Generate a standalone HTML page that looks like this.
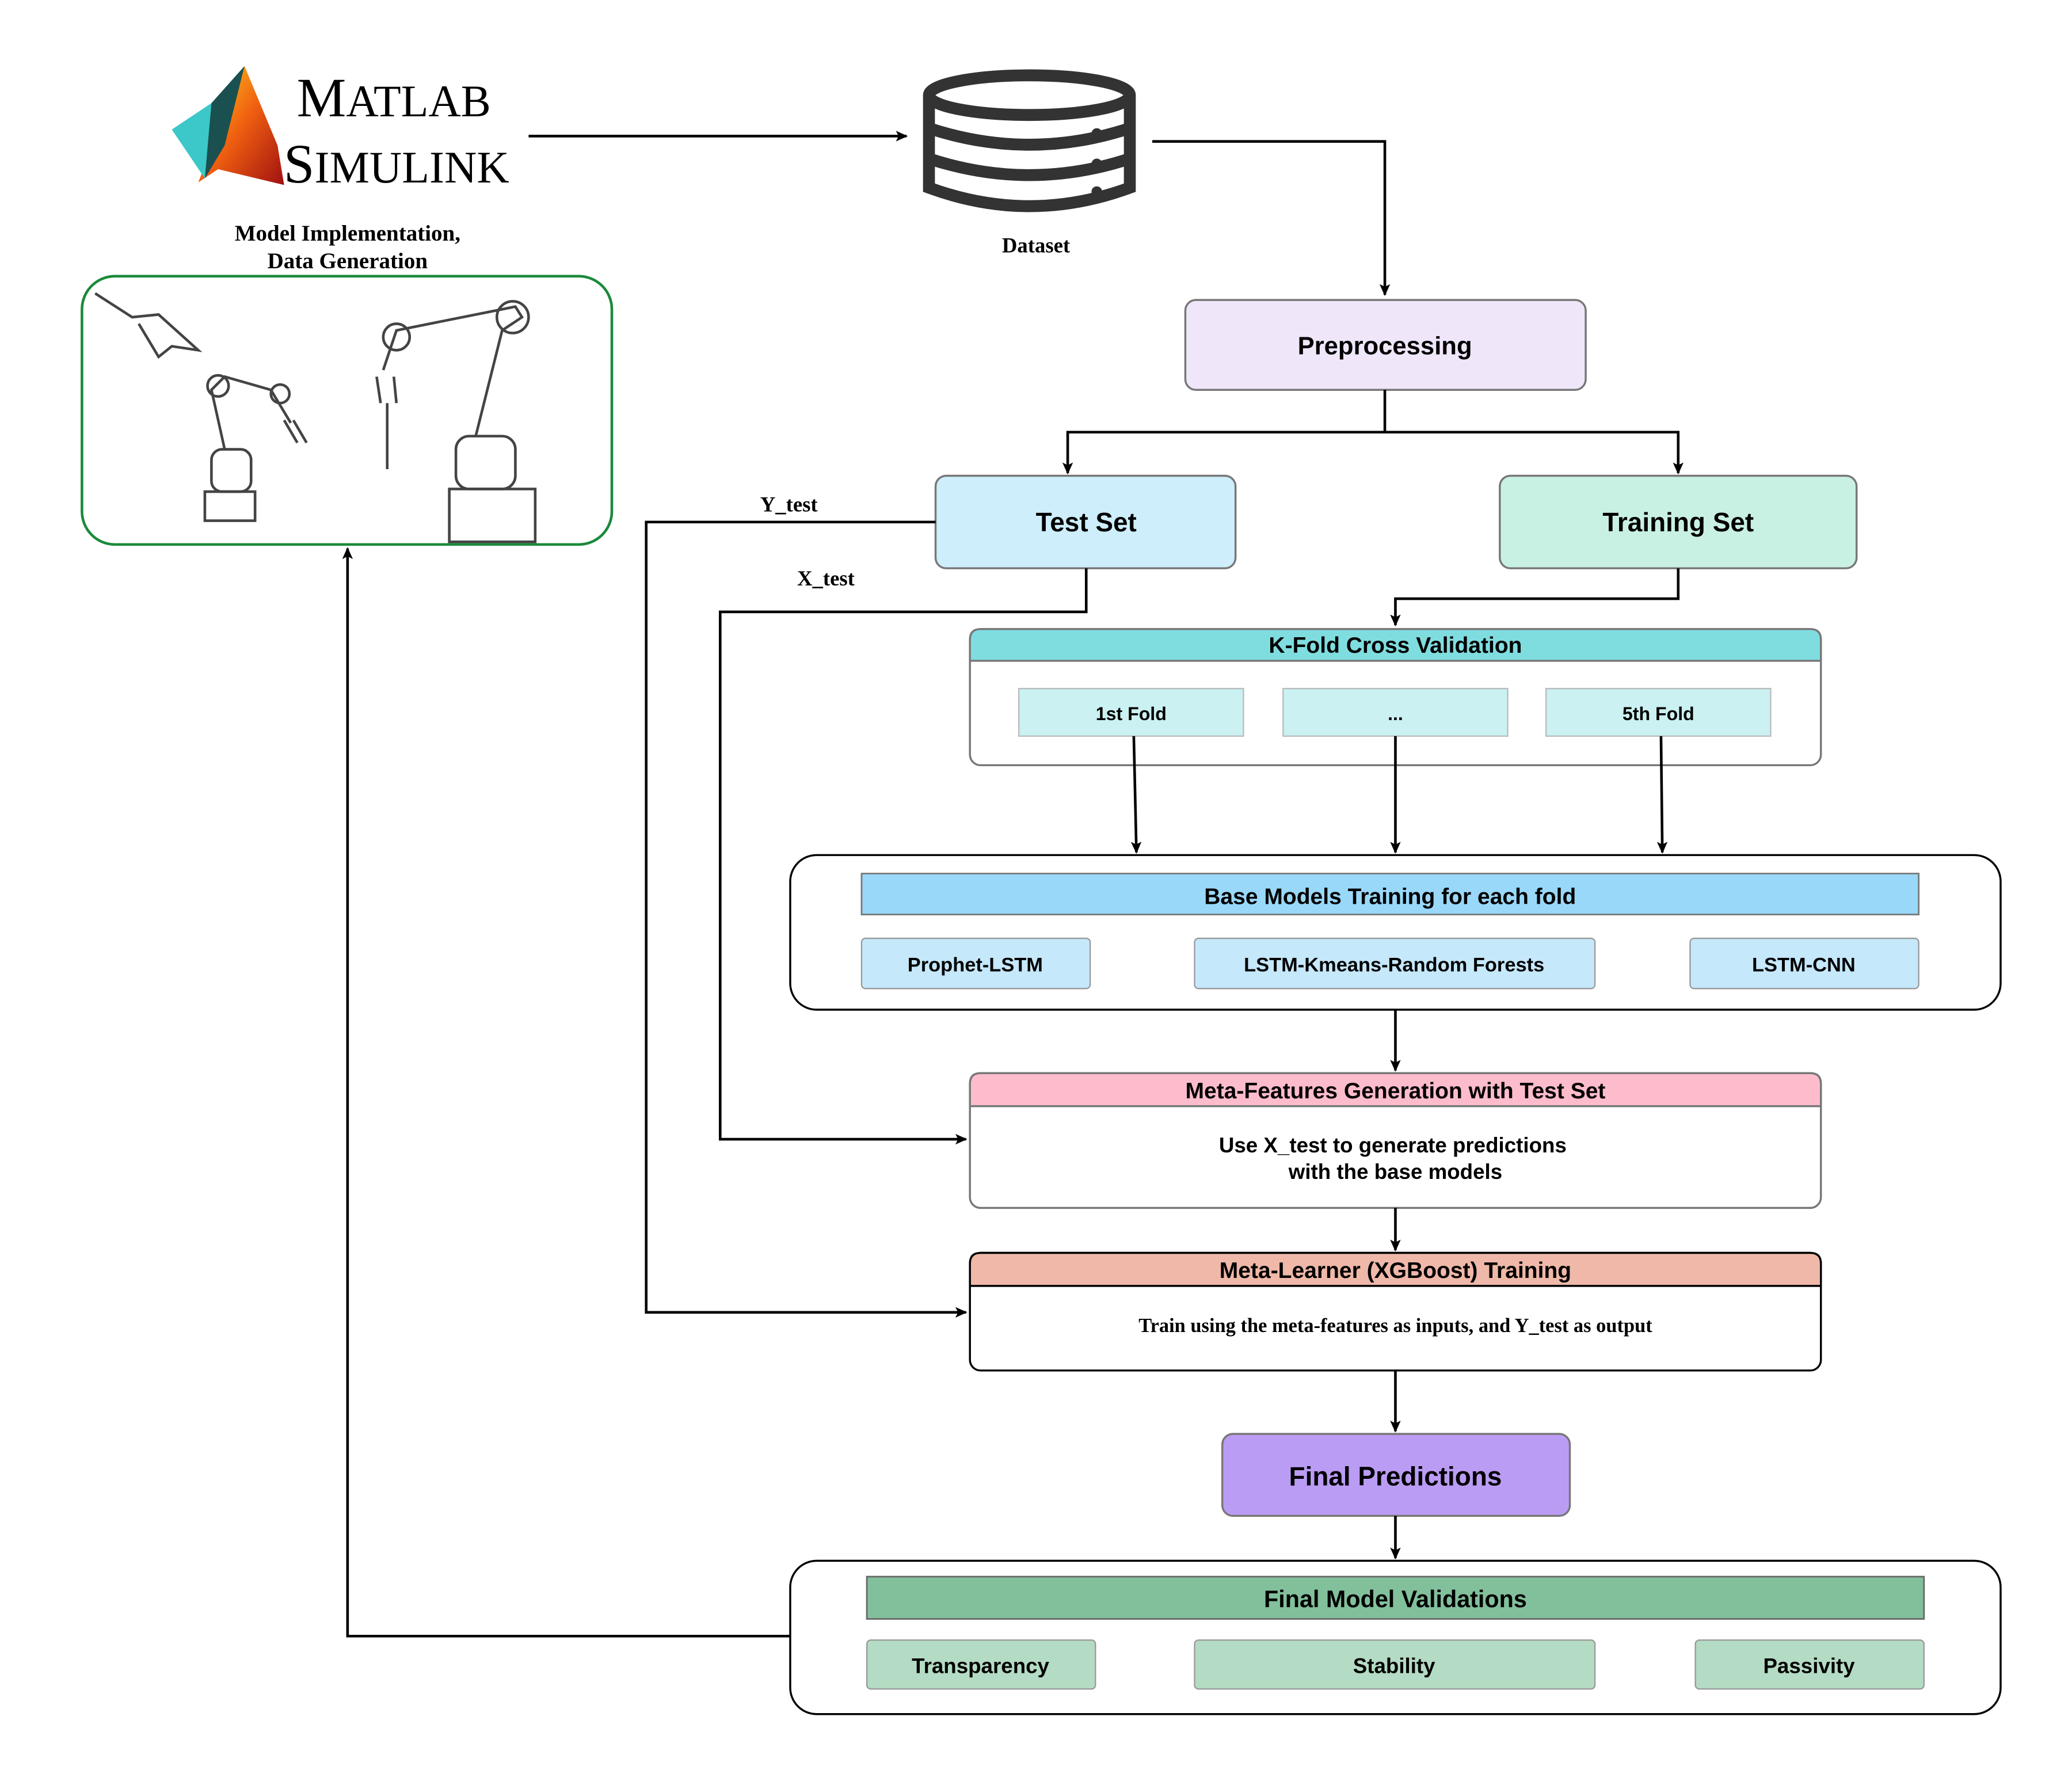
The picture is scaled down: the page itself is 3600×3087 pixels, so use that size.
<!DOCTYPE html>
<html><head><meta charset="utf-8"><style>
html,body{margin:0;padding:0;background:#fff;}
svg{display:block;}
.s{font-family:"Liberation Sans",sans-serif;font-weight:bold;fill:#000;text-anchor:middle;}
.r{font-family:"Liberation Serif",serif;font-weight:bold;fill:#000;text-anchor:middle;}
.ln{fill:none;stroke:#000;stroke-width:2;}
</style></head><body>
<svg width="3600" height="3087" viewBox="0 0 1568 1344.6" xmlns="http://www.w3.org/2000/svg">
<defs>
<marker id="a" markerWidth="10" markerHeight="10" refX="8" refY="5" orient="auto" markerUnits="userSpaceOnUse"><path d="M0,1 L9,5 L0,9 L2,5 Z" fill="#000"/></marker>
<linearGradient id="g" x1="0" y1="0" x2="1" y2="1"><stop offset="0" stop-color="#ffd21e"/><stop offset="0.5" stop-color="#f06010"/><stop offset="1" stop-color="#a01010"/></linearGradient>
</defs>
<rect width="1568" height="1345" fill="#fff"/>
<path d="M185,50 L210,110 L215,140 L165,128 L150,138 Z" fill="url(#g)"/>
<path d="M130,98 L160,78 L175,90 L155,135 Z" fill="#3cc8c8"/>
<path d="M160,78 L185,50 L170,110 L155,135 Z" fill="#1a5050"/>
<text x="298" y="88" font-family="Liberation Serif,serif" font-size="42" text-anchor="middle">M<tspan font-size="34">ATLAB</tspan></text>
<text x="300" y="138" font-family="Liberation Serif,serif" font-size="42" text-anchor="middle">S<tspan font-size="34">IMULINK</tspan></text>
<text x="263" y="182" class="r" font-size="17">Model Implementation,</text>
<text x="263" y="203" class="r" font-size="17">Data Generation</text>
<line class="ln" x1="400" y1="103" x2="686" y2="103" marker-end="url(#a)"/>
<g fill="none" stroke="#333" stroke-width="9">
<ellipse cx="779" cy="72" rx="76" ry="15"/>
<path d="M703,72 V142 Q779,170 855,142 V72"/>
<path d="M703,97 Q779,122 855,97"/><path d="M703,120 Q779,145 855,120"/>
</g>
<circle cx="830" cy="101" r="4" fill="#333"/><circle cx="830" cy="124" r="4" fill="#333"/><circle cx="830" cy="145" r="4" fill="#333"/>
<text x="784" y="191" class="r" font-size="16">Dataset</text>
<polyline class="ln" points="872,107 1048,107 1048,223" marker-end="url(#a)"/>
<rect x="62" y="209" width="401" height="203" rx="25" fill="#fff" stroke="#1a8a3a" stroke-width="2"/>
<g fill="none" stroke="#444" stroke-width="2">
<path d="M72,222 L100,240 L120,238 L150,265 L130,262 L120,270 L105,245"/>
<rect x="155" y="372" width="38" height="22"/><rect x="160" y="340" width="30" height="32" rx="8"/>
<path d="M170,340 L160,295 L170,285 L205,295 L220,320"/><circle cx="165" cy="292" r="8"/><circle cx="212" cy="298" r="7"/>
<path d="M215,318 L225,335 M222,318 L232,335"/>
<rect x="340" y="370" width="65" height="40"/><rect x="345" y="330" width="45" height="40" rx="10"/>
<path d="M360,330 L380,250 L395,240 L390,232 L300,250 L290,280"/><circle cx="388" cy="240" r="12"/><circle cx="300" cy="255" r="10"/>
<path d="M285,285 L288,305 M298,285 L300,305 M293,305 V355"/>
</g>
<rect x="897" y="227" width="303" height="68" rx="8" fill="#efe6f9" stroke="#777" stroke-width="1.5"/>
<text x="1048" y="268" class="s" font-size="19">Preprocessing</text>
<polyline class="ln" points="1048,295 1048,327 808,327 808,358" marker-end="url(#a)"/>
<polyline class="ln" points="1048,327 1270,327 1270,358" marker-end="url(#a)"/>
<rect x="708" y="360" width="227" height="70" rx="8" fill="#cdeefa" stroke="#777" stroke-width="1.5"/>
<text x="822" y="402" class="s" font-size="20">Test Set</text>
<rect x="1135" y="360" width="270" height="70" rx="8" fill="#c9f1e3" stroke="#777" stroke-width="1.5"/>
<text x="1270" y="402" class="s" font-size="20">Training Set</text>
<polyline class="ln" points="708,395 489,395 489,993 731,993" marker-end="url(#a)"/>
<text x="597" y="387" class="r" font-size="16">Y_test</text>
<polyline class="ln" points="822,430 822,463 545,463 545,862 731,862" marker-end="url(#a)"/>
<text x="625" y="443" class="r" font-size="16">X_test</text>
<polyline class="ln" points="1270,430 1270,453 1056,453 1056,473" marker-end="url(#a)"/>
<rect x="734" y="476" width="644" height="103" rx="8" fill="#fff" stroke="#777" stroke-width="1.5"/>
<path d="M742,476 H1370 Q1378,476 1378,484 V500 H734 V484 Q734,476 742,476 Z" fill="#7fdde0" stroke="#777" stroke-width="1.5"/>
<text x="1056" y="494" class="s" font-size="17" style="font-weight:600">K-Fold Cross Validation</text>
<rect x="771" y="521" width="170" height="36" fill="#cbf1f2" stroke="#bbb"/>
<rect x="971" y="521" width="170" height="36" fill="#cbf1f2" stroke="#bbb"/>
<rect x="1170" y="521" width="170" height="36" fill="#cbf1f2" stroke="#bbb"/>
<text x="856" y="545" class="s" font-size="14" style="font-weight:900">1st Fold</text>
<text x="1056" y="545" class="s" font-size="14">...</text>
<text x="1255" y="545" class="s" font-size="14" style="font-weight:900">5th Fold</text>
<line class="ln" x1="858" y1="557" x2="860" y2="645" marker-end="url(#a)"/>
<line class="ln" x1="1056" y1="557" x2="1056" y2="645" marker-end="url(#a)"/>
<line class="ln" x1="1257" y1="557" x2="1258" y2="645" marker-end="url(#a)"/>
<rect x="598" y="647" width="916" height="117" rx="20" fill="#fff" stroke="#000" stroke-width="1.5"/>
<rect x="652" y="661" width="800" height="31" fill="#99d8f9" stroke="#777" stroke-width="1.2"/>
<text x="1052" y="684" class="s" font-size="17" style="font-weight:900">Base Models Training for each fold</text>
<rect x="652" y="710" width="173" height="38" rx="3" fill="#c5e8fb" stroke="#999"/>
<rect x="904" y="710" width="303" height="38" rx="3" fill="#c5e8fb" stroke="#999"/>
<rect x="1279" y="710" width="173" height="38" rx="3" fill="#c5e8fb" stroke="#999"/>
<text x="738" y="735" class="s" font-size="15" style="font-weight:900">Prophet-LSTM</text>
<text x="1055" y="735" class="s" font-size="15" style="font-weight:900">LSTM-Kmeans-Random Forests</text>
<text x="1365" y="735" class="s" font-size="15" style="font-weight:900">LSTM-CNN</text>
<line class="ln" x1="1056" y1="764" x2="1056" y2="810" marker-end="url(#a)"/>
<rect x="734" y="812" width="644" height="102" rx="8" fill="#fff" stroke="#777" stroke-width="1.5"/>
<path d="M742,812 H1370 Q1378,812 1378,820 V837 H734 V820 Q734,812 742,812 Z" fill="#fdbccc" stroke="#777" stroke-width="1.5"/>
<text x="1056" y="831" class="s" font-size="17" style="font-weight:600">Meta-Features Generation with Test Set</text>
<text x="1054" y="872" class="s" font-size="16" style="font-weight:600">Use X_test to generate predictions</text>
<text x="1056" y="892" class="s" font-size="16" style="font-weight:600">with the base models</text>
<line class="ln" x1="1056" y1="914" x2="1056" y2="946" marker-end="url(#a)"/>
<rect x="734" y="948" width="644" height="89" rx="8" fill="#fff" stroke="#000" stroke-width="1.5"/>
<path d="M742,948 H1370 Q1378,948 1378,956 V973 H734 V956 Q734,948 742,948 Z" fill="#efb8a8" stroke="#000" stroke-width="1.5"/>
<text x="1056" y="967" class="s" font-size="17" style="font-weight:600">Meta-Learner (XGBoost) Training</text>
<text x="1056" y="1008" class="r" font-size="15">Train using the meta-features as inputs, and Y_test as output</text>
<line class="ln" x1="1056" y1="1037" x2="1056" y2="1083" marker-end="url(#a)"/>
<rect x="925" y="1085" width="263" height="62" rx="8" fill="#bb9cf5" stroke="#777" stroke-width="1.5"/>
<text x="1056" y="1124" class="s" font-size="20">Final Predictions</text>
<line class="ln" x1="1056" y1="1147" x2="1056" y2="1179" marker-end="url(#a)"/>
<rect x="598" y="1181" width="916" height="116" rx="20" fill="#fff" stroke="#000" stroke-width="1.5"/>
<rect x="656" y="1193" width="800" height="32" fill="#82c09c" stroke="#666" stroke-width="1.2"/>
<text x="1056" y="1216" class="s" font-size="18" style="font-weight:600">Final Model Validations</text>
<rect x="656" y="1241" width="173" height="37" rx="3" fill="#b4dbc3" stroke="#999"/>
<rect x="904" y="1241" width="303" height="37" rx="3" fill="#b4dbc3" stroke="#999"/>
<rect x="1283" y="1241" width="173" height="37" rx="3" fill="#b4dbc3" stroke="#999"/>
<text x="742" y="1266" class="s" font-size="16" style="font-weight:600">Transparency</text>
<text x="1055" y="1266" class="s" font-size="16" style="font-weight:600">Stability</text>
<text x="1369" y="1266" class="s" font-size="16" style="font-weight:600">Passivity</text>
<polyline class="ln" points="598,1238 263,1238 263,415" marker-end="url(#a)"/>
</svg>
</body></html>
